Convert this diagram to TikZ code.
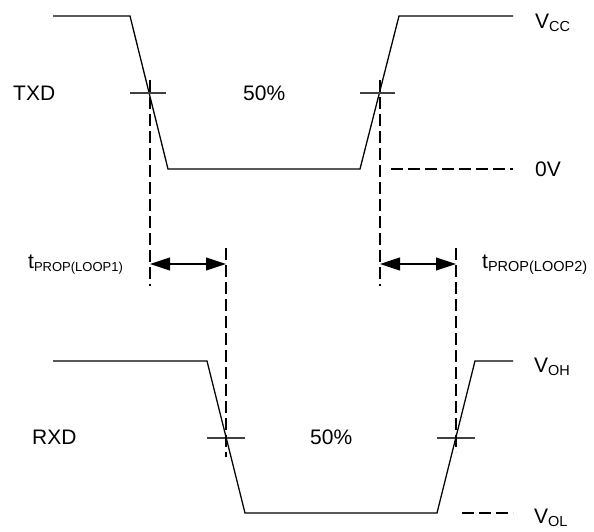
\documentclass[tikz,border=0pt]{standalone}
\usepackage{fontspec}
\setmainfont{Liberation Sans}
\usetikzlibrary{arrows.meta}
\begin{document}
\begin{tikzpicture}[x=1pt,y=-1pt,
  sig/.style={line width=1.3pt, line join=miter},
  tickmark/.style={line width=1.3pt, draw=black!75},
  guide/.style={line width=1.1pt, dash pattern=on 12pt off 5pt},
  meas/.style={line width=1.1pt, {Triangle[length=20pt,width=13pt]}-{Triangle[length=20pt,width=13pt]}},
  lbl/.style={anchor=base west, inner sep=0pt, font=\fontsize{21}{25}\selectfont},
]
\newcommand{\subtxt}[2][14.5]{\raisebox{-3.5pt}{\fontsize{#1}{17}\selectfont #2}}
\useasboundingbox (0,0) rectangle (594,532);

% TXD waveform
\coordinate (t0) at (53,16);
\coordinate (t1) at (130,16);
\coordinate (t2) at (168,169);
\coordinate (t3) at (360,169);
\coordinate (t4) at (399,16);
\coordinate (t5) at (513,16);
\draw[sig] (t0) -- (t1) -- (t2) -- (t3) -- (t4) -- (t5);

% TXD 50% ticks
\coordinate (tk1a) at (130,93); \coordinate (tk1b) at (166,93);
\coordinate (tk2a) at (360,93); \coordinate (tk2b) at (395,93);
\draw[tickmark] (tk1a) -- (tk1b);
\draw[tickmark] (tk2a) -- (tk2b);

% RXD waveform
\coordinate (r0) at (53,361);
\coordinate (r1) at (207,361);
\coordinate (r2) at (245,513);
\coordinate (r3) at (437,513);
\coordinate (r4) at (475,361);
\coordinate (r5) at (513,361);
\draw[sig] (r0) -- (r1) -- (r2) -- (r3) -- (r4) -- (r5);

% RXD 50% ticks
\coordinate (rk1a) at (207,438); \coordinate (rk1b) at (245,438);
\coordinate (rk2a) at (437,438); \coordinate (rk2b) at (475,438);
\draw[tickmark] (rk1a) -- (rk1b);
\draw[tickmark] (rk2a) -- (rk2b);

% dashed guides
\coordinate (g1a) at (150,80);  \coordinate (g1b) at (150,286);
\coordinate (g2a) at (380,80);  \coordinate (g2b) at (380,286);
\coordinate (g3a) at (226,248); \coordinate (g3b) at (226,457);
\coordinate (g4a) at (456,248); \coordinate (g4b) at (456,452);
\coordinate (z0a) at (391,169); \coordinate (z0b) at (513,169);
\coordinate (zla) at (462,513); \coordinate (zlb) at (513,513);
\draw[guide] (g1a) -- (g1b);
\draw[guide] (g2a) -- (g2b);
\draw[guide] (g3a) -- (g3b);
\draw[guide] (g4a) -- (g4b);
\draw[guide] (z0a) -- (z0b);
\draw[guide] (zla) -- (zlb);

% propagation arrows
\coordinate (a1l) at (150,264); \coordinate (a1r) at (226,264);
\coordinate (a2l) at (380,264); \coordinate (a2r) at (456,264);
\draw[meas] (a1l) -- (a1r);
\draw[meas] (a2l) -- (a2r);

% labels
\node[lbl] (txd) at (13,100.5) {TXD};
\node[lbl] (p1) at (243,100.5) {50\%};
\node[lbl] (rxd) at (32,444.5) {RXD};
\node[lbl] (p2) at (310,444.5) {50\%};
\node[lbl] (vcc) at (535,28.5) {V\subtxt{CC}};
\node[lbl] (zv) at (535,176.5) {0V};
\node[lbl] (voh) at (534,372) {V\subtxt{OH}};
\node[lbl] (vol) at (534,523) {V\subtxt{OL}};
\node[lbl] (tp1) at (28,268) {t\subtxt[13]{PROP(LOOP1)}};
\node[lbl] (tp2) at (482,268) {t\subtxt{PROP(LOOP2)}};
\end{tikzpicture}
\end{document}
